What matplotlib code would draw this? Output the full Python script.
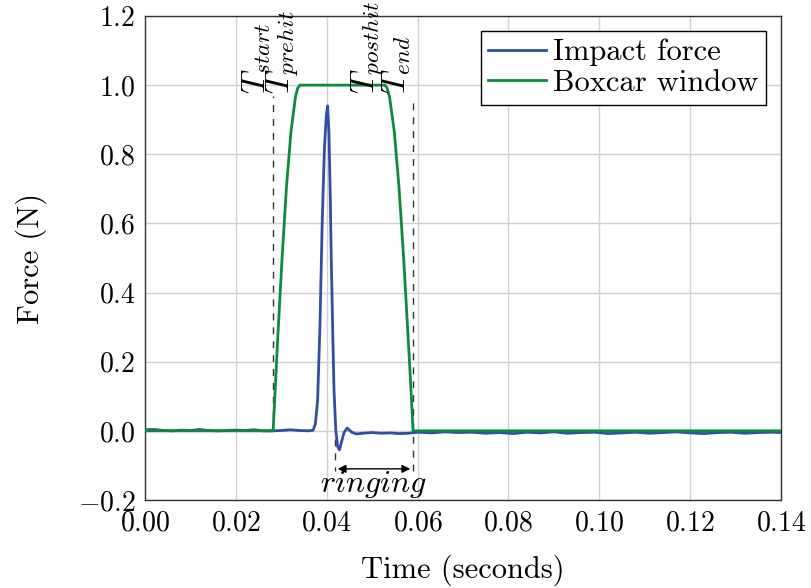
import matplotlib
matplotlib.use("Agg")
import matplotlib.pyplot as plt
from matplotlib.ticker import FuncFormatter

plt.rcParams['font.family'] = 'serif'
plt.rcParams['font.serif'] = ['cmr10']
plt.rcParams['mathtext.fontset'] = 'cm'
plt.rcParams['axes.formatter.use_mathtext'] = True

# impact force
t_force = [0.000, 0.002, 0.004, 0.006, 0.008, 0.010, 0.012, 0.014, 0.016, 0.018,
           0.020, 0.022, 0.024, 0.026, 0.028, 0.030, 0.032, 0.034, 0.036, 0.037,
           0.0375, 0.038, 0.0385, 0.039, 0.0395, 0.0399, 0.0402, 0.0405, 0.0408,
           0.041, 0.0413, 0.0416, 0.042, 0.0424, 0.0428, 0.0432, 0.0438, 0.0445,
           0.0455, 0.0465, 0.048, 0.050,
           0.052, 0.054, 0.056, 0.058, 0.060, 0.063, 0.066, 0.069, 0.072, 0.075,
           0.078, 0.081, 0.084, 0.087, 0.090, 0.093, 0.096, 0.099, 0.102, 0.105,
           0.108, 0.111, 0.114, 0.117, 0.120, 0.123, 0.126, 0.129, 0.132, 0.135,
           0.138, 0.140]
force = [0.003, 0.004, 0.001, 0.000, 0.002, 0.001, 0.004, 0.001, 0.000, 0.001,
         0.002, 0.001, 0.003, 0.000, 0.000, 0.001, 0.003, 0.001, 0.000, 0.002,
         0.02, 0.09, 0.30, 0.60, 0.82, 0.91, 0.94, 0.86, 0.66,
         0.50, 0.30, 0.12, 0.00, -0.045, -0.055, -0.035, -0.005, 0.008,
         -0.004, -0.009, -0.007, -0.005,
         -0.007, -0.006, -0.008, -0.007, -0.004, -0.006, -0.003, -0.005, -0.004, -0.007,
         -0.005, -0.008, -0.004, -0.006, -0.003, -0.007, -0.005, -0.004, -0.008, -0.006,
         -0.004, -0.007, -0.005, -0.003, -0.006, -0.008, -0.005, -0.004, -0.007, -0.005,
         -0.004, -0.005]

# boxcar window
t_box = [0.000, 0.0282, 0.0287, 0.02918, 0.03017, 0.03115, 0.03213, 0.03312, 0.0336, 0.0341,
         0.0528, 0.0533, 0.05383, 0.05487, 0.0559, 0.05693, 0.05797, 0.0585, 0.0590, 0.140]
box = [0.0, 0.0, 0.131, 0.259, 0.5, 0.707, 0.866, 0.966, 0.991, 1.0,
       1.0, 0.991, 0.966, 0.866, 0.707, 0.5, 0.259, 0.131, 0.0, 0.0]

T_start, T_prehit, T_posthit, T_end = 0.0282, 0.0341, 0.0528, 0.0590
t_ring = 0.0418

blue = '#2f4fa3'
green = '#0d8a3e'

fig = plt.figure(figsize=(8.12, 5.88), dpi=100)
ax = fig.add_axes([0.1786, 0.1497, 0.7832, 0.8231])

ax.plot(t_force, force, color=blue, lw=2, label='Impact force', zorder=3)
ax.plot(t_box, box, color=green, lw=2, label='Boxcar window', zorder=4)

# dashed markers
ax.plot([T_start, T_start], [0, 0.97], ls=(0, (5, 5)), color='#333333', lw=1, zorder=2)
ax.plot([T_end, T_end], [-0.115, 0.97], ls=(0, (5, 5)), color='#333333', lw=1, zorder=2)
ax.plot([t_ring, t_ring], [-0.025, -0.115], ls=(0, (5, 5)), color='#333333', lw=1, zorder=2)

ax.annotate('', xy=(t_ring, -0.11), xytext=(T_end, -0.11),
            arrowprops=dict(arrowstyle='<|-|>', color='black', lw=1, mutation_scale=12))
ax.text((t_ring + T_end) / 2, -0.155, r'$ringing$', ha='center', va='center', fontsize=23)

for tx, lab in [(T_start, r'$T_{start}$'), (T_prehit, r'$T_{prehit}$'),
                (T_posthit, r'$T_{posthit}$'), (T_end, r'$T_{end}$')]:
    ax.text(tx, 0.975, lab, rotation=90, ha='right', va='bottom', fontsize=24, zorder=5)

ax.set_xlim(0, 0.14)
ax.set_ylim(-0.2, 1.2)
ax.set_xticks([0, 0.02, 0.04, 0.06, 0.08, 0.10, 0.12, 0.14])
ax.set_yticks([-0.2, 0, 0.2, 0.4, 0.6, 0.8, 1.0, 1.2])
ax.xaxis.set_major_formatter(FuncFormatter(lambda v, p: '$%.2f$' % v))
ax.yaxis.set_major_formatter(FuncFormatter(lambda v, p: '$%.1f$' % v if abs(v) > 1e-9 else '$0.0$'))
ax.tick_params(labelsize=20, length=0, pad=7)
ax.grid(True, color='#d0d0d0', lw=1)
ax.set_axisbelow(True)
for s in ax.spines.values():
    s.set_color('#333333')
    s.set_linewidth(1)

ax.set_xlabel('Time (seconds)', fontsize=22, labelpad=13)
ax.set_ylabel('Force (N)', fontsize=22, labelpad=22)

leg = ax.legend(loc='upper right', fontsize=22, fancybox=False, edgecolor='black',
                framealpha=1, handlelength=1.9, handletextpad=0.2, borderaxespad=0.5,
                labelspacing=0.1, borderpad=0.25)
leg.get_frame().set_linewidth(1)

fig.savefig('out.png', dpi=100)
